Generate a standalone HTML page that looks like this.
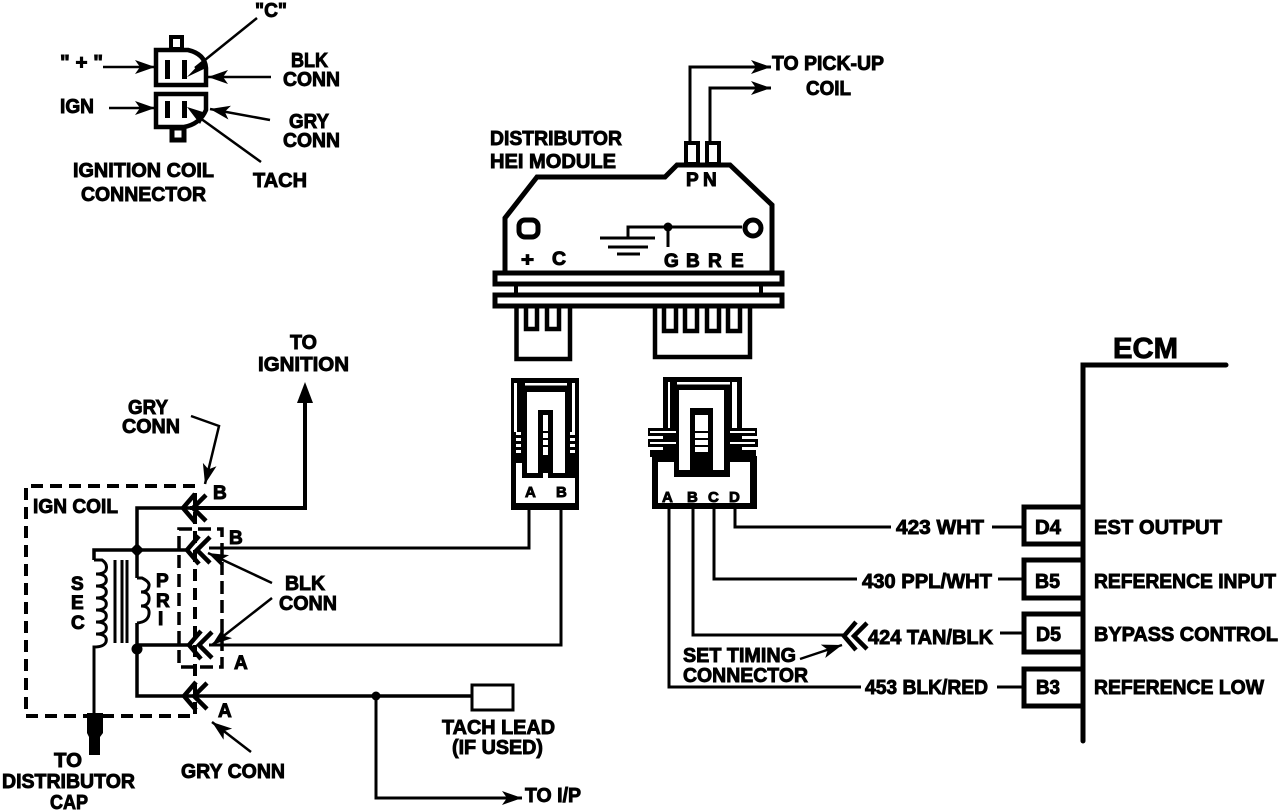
<!DOCTYPE html>
<html><head><meta charset="utf-8"><style>
html,body{margin:0;padding:0;background:#fff}
svg{display:block}
text{font-family:"Liberation Sans",sans-serif;font-weight:bold;fill:#000;stroke:#000;stroke-width:.9;font-size:20px}
.s{font-size:19px;stroke-width:1}
</style></head><body>
<svg width="1280" height="812" viewBox="0 0 1280 812" xmlns="http://www.w3.org/2000/svg">
<defs>
<marker id="a" markerUnits="userSpaceOnUse" markerWidth="24" markerHeight="18" refX="20" refY="8" orient="auto"><path d="M0,1 L20,8 L0,15 L5,8 z"/></marker>
<g id="ch" fill="none" stroke="#000" stroke-width="4.5"><path d="M13,-14 L1,0 L13,14"/><path d="M24,-13 L11,0 L24,13"/></g>
</defs>
<rect width="1280" height="812" fill="#fff"/>

<!-- top-left connector -->
<g fill="none" stroke="#000" stroke-width="4">
<path d="M156,50 H188 Q205,54 206,68 V85 H156 Z" stroke-width="4.5"/>
<path d="M156,94 H206 V110 Q200,124 184,127 H156 Z" stroke-width="4.5"/>
<rect x="171" y="37" width="11" height="12"/>
<rect x="172" y="128" width="12" height="12" stroke-width="5"/>
</g>
<rect x="165" y="60" width="5" height="19"/><rect x="182" y="60" width="5" height="19"/>
<rect x="165" y="101" width="5" height="17"/><rect x="182" y="101" width="5" height="17"/>
<g fill="none" stroke="#000" stroke-width="2.5">
<path d="M103,67 H155" marker-end="url(#a)"/>
<path d="M109,108 H155" marker-end="url(#a)"/>
<path d="M271,77 H208" marker-end="url(#a)"/>
<path d="M270,120 L210,109" marker-end="url(#a)"/>
<path d="M257,18 L195,68"/>
<path d="M261,162 L200,118"/>
</g>
<path d="M187,77 L203,60 L206,68 Z"/>
<path d="M187,107 L206,113 L200,124 Z"/>
<text x="255" y="17" textLength="32" lengthAdjust="spacingAndGlyphs">"C"</text>
<text x="60" y="69" textLength="43" lengthAdjust="spacingAndGlyphs">" + "</text>
<text x="60" y="113" textLength="34" lengthAdjust="spacingAndGlyphs">IGN</text>
<text x="291" y="67" textLength="37" lengthAdjust="spacingAndGlyphs">BLK</text>
<text x="283" y="86" textLength="57" lengthAdjust="spacingAndGlyphs">CONN</text>
<text x="289" y="128" textLength="40" lengthAdjust="spacingAndGlyphs">GRY</text>
<text x="283" y="147" textLength="57" lengthAdjust="spacingAndGlyphs">CONN</text>
<text x="253" y="187" textLength="54" lengthAdjust="spacingAndGlyphs">TACH</text>
<text x="73" y="177" textLength="141" lengthAdjust="spacingAndGlyphs">IGNITION COIL</text>
<text x="81" y="201" textLength="125" lengthAdjust="spacingAndGlyphs">CONNECTOR</text>

<!-- HEI module -->
<text x="490" y="145" textLength="132" lengthAdjust="spacingAndGlyphs">DISTRIBUTOR</text>
<text x="490" y="168" textLength="126" lengthAdjust="spacingAndGlyphs">HEI MODULE</text>
<text x="772" y="70" textLength="112" lengthAdjust="spacingAndGlyphs">TO PICK-UP</text>
<text x="806" y="95" textLength="45" lengthAdjust="spacingAndGlyphs">COIL</text>
<g fill="none" stroke="#000">
<path d="M690,142 V67 H771" stroke-width="3" marker-end="url(#a)"/>
<path d="M710,142 V88 H771" stroke-width="3" marker-end="url(#a)"/>
<rect x="686" y="143" width="12" height="21" stroke-width="4"/>
<rect x="707" y="143" width="12" height="21" stroke-width="4"/>
<path d="M505,272 V218 L537,177 H665 L677,165 H730 L772,205 V272" stroke-width="5"/>
<rect x="519" y="220" width="19" height="17" rx="6" stroke-width="5"/>
<circle cx="753" cy="228" r="8" stroke-width="5"/>
<path d="M742,227 H628 V238 M668,227 V247" stroke-width="3"/>
<path d="M600,238 H655 M608,247 H648 M617,254 H640" stroke-width="3"/>
<rect x="495" y="273" width="287" height="11" stroke-width="5"/>
<rect x="495" y="295" width="287" height="11" stroke-width="5"/>
<path d="M516,286 V293 M761,286 V293" stroke-width="4"/>
<path d="M516.500,307 V359 H570 V307" stroke-width="4.500"/>
<path d="M655,307 V357 H750 V307" stroke-width="4.500"/>
<path d="M526,308 V329 H537 V308 M547,308 V329 H559 V308" stroke-width="4.500"/>
<path d="M664,308 V331 H676 V308 M685,308 V331 H697 V308 M707,308 V331 H719 V308 M728,308 V331 H740 V308" stroke-width="4.500"/>
</g>
<circle cx="668" cy="227" r="4.500"/>
<text class="s" x="521" y="266" textLength="13" lengthAdjust="spacingAndGlyphs">+</text>
<text class="s" x="552" y="265" textLength="14" lengthAdjust="spacingAndGlyphs">C</text>
<text class="s" x="664" y="267">G</text><text class="s" x="686" y="267">B</text><text class="s" x="708" y="267">R</text><text class="s" x="731" y="267">E</text>
<text class="s" x="686" y="186">P</text><text class="s" x="703" y="186">N</text>

<!-- left plug -->
<rect x="511" y="378" width="68" height="132"/>
<rect x="516" y="463" width="59" height="40" fill="#fff"/>
<rect x="522" y="463" width="53" height="15"/>
<g fill="#fff">
<rect x="527" y="392" width="11" height="81"/><rect x="553" y="392" width="12" height="81"/>
<rect x="527" y="392" width="38" height="18"/>
<rect x="543" y="415" width="5" height="40"/>
<rect x="543" y="473" width="5" height="6"/>
<rect x="525" y="383" width="42" height="2.500"/>
<rect x="514" y="383" width="3" height="49"/><rect x="572" y="383" width="3" height="49"/>
<rect x="516" y="432" width="5" height="3"/><rect x="516" y="438" width="5" height="3"/><rect x="516" y="444" width="5" height="3"/><rect x="516" y="450" width="5" height="3"/>
<rect x="570" y="432" width="5" height="3"/><rect x="570" y="438" width="5" height="3"/><rect x="570" y="444" width="5" height="3"/><rect x="570" y="450" width="5" height="3"/>
</g>
<rect x="543" y="431" width="5" height="2"/><rect x="543" y="438" width="5" height="2"/><rect x="543" y="445" width="5" height="2"/>
<text x="525" y="497" style="font-size:15px">A</text>
<text x="556" y="497" style="font-size:15px">B</text>

<!-- right plug -->
<rect x="663" y="377" width="79" height="83"/>
<rect x="652" y="456" width="105" height="53"/>
<rect x="658" y="462" width="92" height="41" fill="#fff"/>
<rect x="674" y="462" width="56" height="15"/>
<g>
<rect x="648" y="428" width="32" height="8"/><rect x="648" y="439" width="32" height="8"/><rect x="650" y="450" width="30" height="7"/>
<rect x="724" y="428" width="33" height="8"/><rect x="724" y="439" width="34" height="8"/><rect x="724" y="450" width="32" height="7"/>
</g>
<g fill="#fff">
<rect x="679" y="390" width="11" height="80"/><rect x="713" y="390" width="11" height="80"/>
<rect x="679" y="390" width="45" height="18"/>
<rect x="695" y="415" width="13" height="37"/>
<rect x="677" y="382" width="53" height="2.500"/>
<rect x="668" y="382" width="2" height="46"/><rect x="732" y="382" width="5" height="46"/>
<rect x="650" y="431" width="26" height="2"/><rect x="650" y="442" width="26" height="2"/>
<rect x="730" y="431" width="25" height="2"/><rect x="730" y="442" width="25" height="2"/>
</g>
<rect x="695" y="431" width="13" height="2"/><rect x="695" y="438" width="13" height="2"/><rect x="695" y="445" width="13" height="2"/>
<text x="662" y="502" style="font-size:15px">A</text><text x="687" y="502" style="font-size:15px">B</text>
<text x="708" y="502" style="font-size:15px">C</text><text x="729" y="502" style="font-size:15px">D</text>

<!-- wires -->
<g fill="none" stroke="#000" stroke-width="3">
<path d="M529,510 V548 H209"/>
<path d="M561,510 V645 H209"/>
<path d="M669,508 V687 H861"/>
<path d="M693,508 V635 H845"/>
<path d="M714,508 V579 H857"/>
<path d="M735,508 V527 H891"/>
<path d="M992,527 H1022 M998,579 H1022 M1000,633 H1022 M997,687 H1022"/>
<path d="M800,659 L842,645" marker-end="url(#a)" stroke-width="2.500"/>
</g>
<use href="#ch" x="843" y="636"/>

<!-- ECM -->
<path d="M1226,365 H1083 V741" fill="none" stroke="#000" stroke-width="5" stroke-linecap="round"/>
<g fill="#fff" stroke="#000" stroke-width="5">
<path d="M1083,507 H1024 V544 H1083"/>
<path d="M1083,560 H1024 V598 H1083"/>
<path d="M1083,614 H1024 V652 H1083"/>
<path d="M1083,669 H1024 V706 H1083"/>
</g>
<path d="M1083,365 V741" stroke="#000" stroke-width="5"/>
<text x="1113" y="358" textLength="65" lengthAdjust="spacingAndGlyphs" style="font-size:29px">ECM</text>
<text x="1035" y="534" textLength="26" lengthAdjust="spacingAndGlyphs">D4</text>
<text x="1035" y="588" textLength="25" lengthAdjust="spacingAndGlyphs">B5</text>
<text x="1036" y="641" textLength="25" lengthAdjust="spacingAndGlyphs">D5</text>
<text x="1036" y="694" textLength="24" lengthAdjust="spacingAndGlyphs">B3</text>
<text x="1094" y="534" textLength="128" lengthAdjust="spacing">EST OUTPUT</text>
<text x="1094" y="588" textLength="182" lengthAdjust="spacingAndGlyphs">REFERENCE INPUT</text>
<text x="1094" y="641" textLength="184" lengthAdjust="spacingAndGlyphs">BYPASS CONTROL</text>
<text x="1094" y="694" textLength="170" lengthAdjust="spacingAndGlyphs">REFERENCE LOW</text>
<text x="896" y="534" textLength="88" lengthAdjust="spacingAndGlyphs">423 WHT</text>
<text x="862" y="588" textLength="130" lengthAdjust="spacingAndGlyphs">430 PPL/WHT</text>
<text x="868" y="644" textLength="125" lengthAdjust="spacingAndGlyphs">424 TAN/BLK</text>
<text x="865" y="694" textLength="123" lengthAdjust="spacingAndGlyphs">453 BLK/RED</text>
<text x="683" y="662" textLength="113" lengthAdjust="spacingAndGlyphs">SET TIMING</text>
<text x="683" y="682" textLength="125" lengthAdjust="spacingAndGlyphs">CONNECTOR</text>

<!-- ignition coil -->
<g fill="none" stroke="#000" stroke-width="4" stroke-dasharray="12 7">
<path d="M195,486 H26 V716 H195 V486"/>
</g>
<path d="M179,529 H222 V667 H179 Z" fill="none" stroke="#000" stroke-width="3.500" stroke-dasharray="13 6"/>
<g fill="none" stroke="#000" stroke-width="3.500">
<path d="M190,508 H137 V578 M137,623 V696 H471"/>
<path d="M94,560 V550 H190"/>
<path d="M137,645 H190"/>
<path d="M190,508 H305 V395" stroke-width="4"/>
<path d="M376,696 V798 H522" stroke-width="3" marker-end="url(#a)"/>
<path d="M137,578 H142 Q150,582 149,586 Q148,592 141,592 Q150,592 149,600 Q148,606 141,606 Q150,606 149,614 Q148,622 137,623" stroke-width="3"/>
<path d="M94,560 H102 Q108,564 106,570 Q104,574 96,574 Q108,574 106,582 Q104,586 96,586 Q108,586 106,594 Q104,598 96,598 Q108,598 106,606 Q104,610 96,610 Q108,610 106,618 Q104,622 96,622 Q108,622 106,630 Q104,634 96,634 Q108,634 106,642 Q104,647 94,647 V715" stroke-width="3"/>
<path d="M115,560 V643 M122,560 V643 M127,560 V643" stroke-width="3"/>
<rect x="472" y="685" width="41" height="25" stroke-width="3"/>
</g>
<path d="M305,382 L313,403 H297 Z"/>
<path d="M137,543 L144,550 L137,557 L130,550 Z"/><circle cx="137" cy="649" r="5.500"/><circle cx="376" cy="696" r="4.500"/>
<path d="M87,713 H103 V733 L100,737 V755 H89 V737 L87,733 Z"/>
<use href="#ch" x="182" y="508"/><use href="#ch" x="186" y="550"/><use href="#ch" x="188" y="645"/><use href="#ch" x="183" y="696"/>
<g fill="none" stroke="#000" stroke-width="2.500">
<path d="M191,416 L219,426 L205,484" marker-end="url(#a)"/>
<path d="M272,583 L208,553" marker-end="url(#a)"/>
<path d="M272,598 L212,645" marker-end="url(#a)"/>
<path d="M251,752 L212,722" marker-end="url(#a)"/>
</g>
<text x="33" y="513" textLength="85" lengthAdjust="spacingAndGlyphs">IGN COIL</text>
<text class="s" x="71" y="590">S</text><text class="s" x="71" y="609">E</text><text class="s" x="71" y="629">C</text>
<text class="s" x="156" y="587">P</text><text class="s" x="156" y="607">R</text><text class="s" x="158" y="625">I</text>
<text class="s" x="213" y="499">B</text><text class="s" x="229" y="544">B</text><text class="s" x="234" y="669">A</text><text class="s" x="218" y="717">A</text>
<text x="290" y="349" textLength="27" lengthAdjust="spacingAndGlyphs">TO</text>
<text x="258" y="371" textLength="91" lengthAdjust="spacingAndGlyphs">IGNITION</text>
<text x="128" y="414" textLength="40" lengthAdjust="spacingAndGlyphs">GRY</text>
<text x="122" y="433" textLength="58" lengthAdjust="spacingAndGlyphs">CONN</text>
<text x="285" y="590" textLength="40" lengthAdjust="spacingAndGlyphs">BLK</text>
<text x="279" y="610" textLength="58" lengthAdjust="spacingAndGlyphs">CONN</text>
<text x="181" y="778" textLength="104" lengthAdjust="spacingAndGlyphs">GRY CONN</text>
<text x="54" y="767" textLength="28" lengthAdjust="spacingAndGlyphs">TO</text>
<text x="2" y="788" textLength="133" lengthAdjust="spacingAndGlyphs">DISTRIBUTOR</text>
<text x="50" y="809" textLength="38" lengthAdjust="spacingAndGlyphs">CAP</text>
<text x="442" y="734" textLength="113" lengthAdjust="spacingAndGlyphs">TACH LEAD</text>
<text x="452" y="754" textLength="91" lengthAdjust="spacingAndGlyphs">(IF USED)</text>
<text x="525" y="802" textLength="56" lengthAdjust="spacingAndGlyphs">TO I/P</text>
</svg>
</body></html>
